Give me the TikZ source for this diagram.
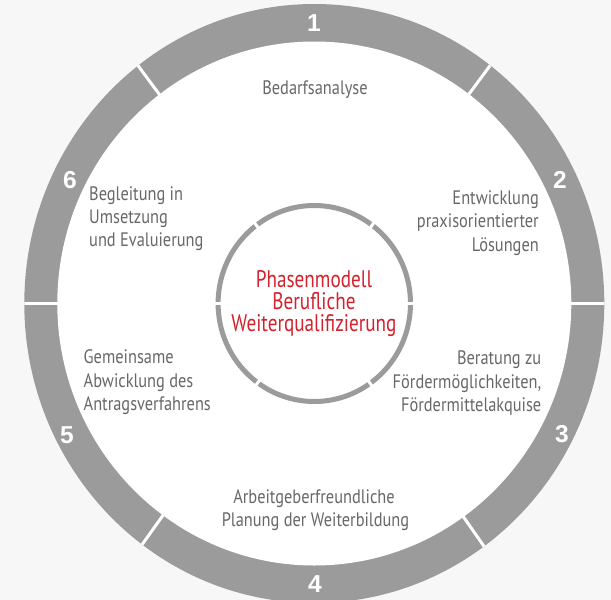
\documentclass[tikz,border=0pt]{standalone}
\usepackage{fontspec}
\setmainfont{PT Sans}[FakeStretch=0.84]
\newfontfamily\titlefont{PT Sans}[FakeStretch=0.8]
\newfontfamily\numfont{Liberation Sans}
\definecolor{ringgray}{HTML}{9A9B9A}
\definecolor{bggray}{HTML}{F7F7F7}
\definecolor{textgray}{HTML}{67686A}
\definecolor{titlered}{HTML}{D2222E}
\begin{document}
\begin{tikzpicture}[x=1pt,y=-1pt,
  txt/.style={font=\fontsize{19.5}{23}\selectfont, text=textgray, inner sep=0pt},
  ttl/.style={font=\titlefont\fontsize{24}{22}\selectfont, text=titlered, inner sep=0pt, anchor=base},
  num/.style={font=\numfont\bfseries\fontsize{24.5}{24}\selectfont, text=white, inner sep=0pt},
  gap/.style={white, line width=3pt}]
\clip (0,0) rectangle (611,600);
\fill[bggray] (0,0) rectangle (611,600);
\coordinate (c) at (314.3,303.5);
\fill[ringgray] (c) ellipse [x radius=290, y radius=299.5];
\fill[white] (c) ellipse [x radius=257, y radius=262];
\draw[ringgray, line width=5pt] (c) ellipse [x radius=96.2, y radius=98];
\begin{scope}
  \clip (c) ellipse [x radius=290, y radius=299.5];
  \foreach \a/\b in {634/303.5, 504.3/46.3, 123.7/46.3, -6/303.5, 128.2/564, 497.5/565.6}
    \draw[gap] (c) -- (\a,\b);
\end{scope}
% numbers
\node[num] (n1) at (314,23.5) {1};
\node[num] (n2) at (560,180) {2};
\node[num] (n3) at (562,434) {3};
\node[num] (n4) at (315,584) {4};
\node[num] (n5) at (67,435.5) {5};
\node[num] (n6) at (70,180) {6};
% phase texts
\node[txt, anchor=base] (p1) at (315,94) {Bedarfsanalyse};
\node[txt, anchor=base east] (p2a) at (539,204) {Entwicklung};
\node[txt, anchor=base east] (p2b) at (539,227.5) {praxisorientierter};
\node[txt, anchor=base east] (p2c) at (539,251) {Lösungen};
\node[txt, anchor=base east] (p3a) at (541.5,364.5) {Beratung zu};
\node[txt, anchor=base east] (p3b) at (541.5,388) {Fördermöglichkeiten,};
\node[txt, anchor=base east] (p3c) at (541.5,411.5) {Fördermittelakquise};
\node[txt, anchor=base] (p4a) at (314,503) {Arbeitgeberfreundliche};
\node[txt, anchor=base] (p4b) at (315.5,526) {Planung der Weiterbildung};
\node[txt, anchor=base west] (p5a) at (83.5,363.5) {Gemeinsame};
\node[txt, anchor=base west] (p5b) at (83.5,387) {Abwicklung des};
\node[txt, anchor=base west] (p5c) at (83.5,410.5) {Antragsverfahrens};
\node[txt, anchor=base west] (p6a) at (89,200.5) {Begleitung in};
\node[txt, anchor=base west] (p6b) at (89,223.5) {Umsetzung};
\node[txt, anchor=base west] (p6c) at (89,246.5) {und Evaluierung};
% title
\node[ttl] (t1) at (314,287) {Phasenmodell};
\node[ttl] (t2) at (314,309.5) {Berufliche};
\node[ttl] (t3) at (314,331.5) {Weiterqualifizierung};
\end{tikzpicture}
\end{document}
